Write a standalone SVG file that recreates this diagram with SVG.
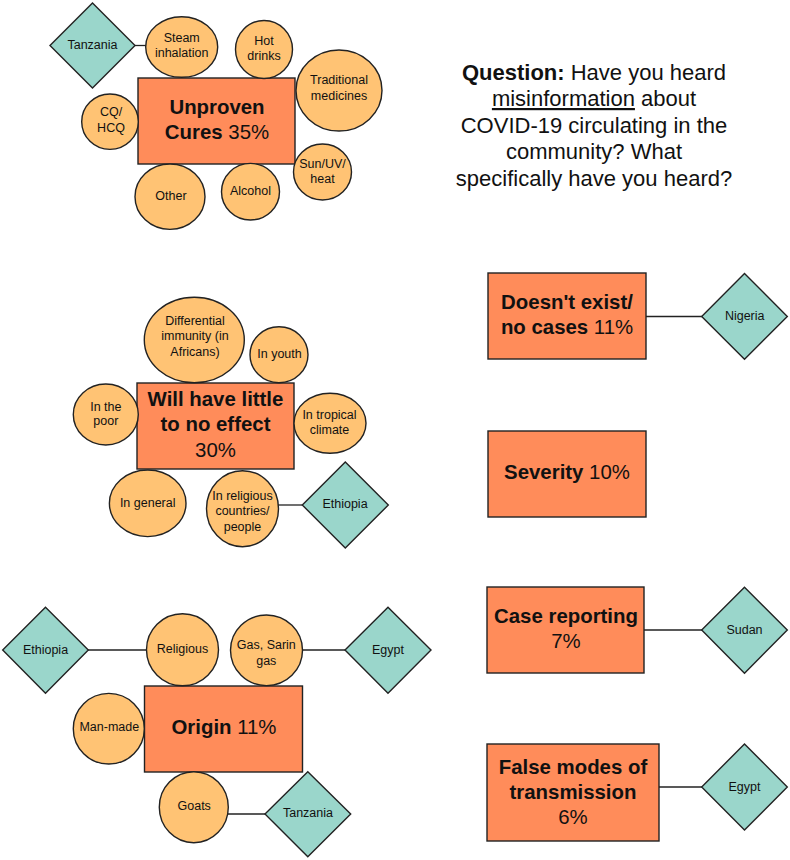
<svg xmlns="http://www.w3.org/2000/svg" width="790" height="860" viewBox="0 0 790 860">
<style>
.bg{fill:#ffffff}
.rect{fill:#FF8C5A;stroke:#222;stroke-width:1.4}
.circ{fill:#FFC374;stroke:#222;stroke-width:1.4}
.dia{fill:#9AD6CB;stroke:#222;stroke-width:1.4}
.conn{stroke:#222;stroke-width:1.3;fill:none}
text{font-family:"Liberation Sans",Arial,sans-serif;fill:#111;text-anchor:middle}
.s{font-size:12.5px}
.big{font-size:20.4px}
.q{font-size:22px}
.b{font-weight:bold}
</style>
<rect class="bg" x="0" y="0" width="790" height="860"/>

<g id="connectors">
  <line class="conn" x1="135" y1="45.5" x2="146" y2="45.5"/>
  <line class="conn" x1="278" y1="505" x2="302" y2="505"/>
  <line class="conn" x1="646" y1="316.5" x2="702" y2="316.5"/>
  <line class="conn" x1="88" y1="650" x2="147" y2="650"/>
  <line class="conn" x1="302" y1="650" x2="345" y2="650"/>
  <line class="conn" x1="228" y1="814" x2="265" y2="814"/>
  <line class="conn" x1="644" y1="630" x2="702" y2="630"/>
  <line class="conn" x1="659" y1="787" x2="702" y2="787"/>
</g>

<g id="question">
  <text class="q" x="594" y="79.5"><tspan class="b">Question:</tspan> Have you heard</text>
  <text class="q" x="594" y="106"><tspan text-decoration="underline">misinformation</tspan> about</text>
  <text class="q" x="594" y="132.5">COVID-19 circulating in the</text>
  <text class="q" x="594" y="159">community? What</text>
  <text class="q" x="594" y="185.5">specifically have you heard?</text>
</g>

<!-- Unproven cures cluster -->
<g id="unproven">
  <rect class="rect" x="138" y="78" width="157" height="86"/>
  <text class="big b" x="217" y="114">Unproven</text>
  <text class="big" x="217" y="138.5"><tspan class="b">Cures</tspan> 35%</text>
</g>
<g id="tanzania1">
  <polygon class="dia" points="92.5,3 135,45.5 92.5,88 50,45.5"/>
  <text class="s" x="92.5" y="49">Tanzania</text>
</g>
<g id="steam">
  <ellipse class="circ" cx="181.7" cy="47" rx="36" ry="30.3"/>
  <text class="s" x="181.7" y="42">Steam</text>
  <text class="s" x="181.7" y="57">inhalation</text>
</g>
<g id="hotdrinks">
  <ellipse class="circ" cx="264" cy="49.5" rx="28.5" ry="29"/>
  <text class="s" x="264" y="45">Hot</text>
  <text class="s" x="264" y="60">drinks</text>
</g>
<g id="traditional">
  <ellipse class="circ" cx="339" cy="90.5" rx="43" ry="40.5"/>
  <text class="s" x="339" y="84">Traditional</text>
  <text class="s" x="339" y="99.5">medicines</text>
</g>
<g id="cqhcq">
  <ellipse class="circ" cx="110" cy="121.7" rx="28.3" ry="27.7"/>
  <text class="s" x="111" y="116">CQ/</text>
  <text class="s" x="111" y="131.5">HCQ</text>
</g>
<g id="sunuv">
  <ellipse class="circ" cx="322.5" cy="172" rx="29" ry="28"/>
  <text class="s" x="322.5" y="168">Sun/UV/</text>
  <text class="s" x="322.5" y="183">heat</text>
</g>
<g id="other">
  <ellipse class="circ" cx="170" cy="196.7" rx="35" ry="32.7"/>
  <text class="s" x="171" y="199.5">Other</text>
</g>
<g id="alcohol">
  <ellipse class="circ" cx="250.5" cy="191.7" rx="29" ry="28.3"/>
  <text class="s" x="250.5" y="194.5">Alcohol</text>
</g>

<!-- Little effect cluster -->
<g id="littleeffect">
  <rect class="rect" x="137" y="383" width="157" height="86"/>
  <text class="big b" x="215.5" y="406">Will have little</text>
  <text class="big b" x="215.5" y="431">to no effect</text>
  <text class="big" x="215.5" y="457">30%</text>
</g>
<g id="differential">
  <ellipse class="circ" cx="194.3" cy="340" rx="50" ry="42.7"/>
  <text class="s" x="195" y="325">Differential</text>
  <text class="s" x="195" y="340">immunity (in</text>
  <text class="s" x="195" y="355.5">Africans)</text>
</g>
<g id="youth">
  <ellipse class="circ" cx="279" cy="354.7" rx="29" ry="28"/>
  <text class="s" x="279.5" y="358">In youth</text>
</g>
<g id="poor">
  <ellipse class="circ" cx="105.8" cy="414.5" rx="32.5" ry="30.5"/>
  <text class="s" x="105.8" y="410.5">In the</text>
  <text class="s" x="105.8" y="425">poor</text>
</g>
<g id="tropical">
  <ellipse class="circ" cx="330" cy="423.3" rx="36" ry="30"/>
  <text class="s" x="329.5" y="418.5">In tropical</text>
  <text class="s" x="329.5" y="433.5">climate</text>
</g>
<g id="general">
  <ellipse class="circ" cx="147.7" cy="503.3" rx="38.3" ry="33.3"/>
  <text class="s" x="147.7" y="507">In general</text>
</g>
<g id="religiouscountries">
  <ellipse class="circ" cx="242.5" cy="508.7" rx="36" ry="38"/>
  <text class="s" x="242.5" y="499.5">In religious</text>
  <text class="s" x="242.5" y="515">countries/</text>
  <text class="s" x="242.5" y="530.5">people</text>
</g>
<g id="ethiopia1">
  <polygon class="dia" points="345.3,462 388.3,505 345.3,548 302.3,505"/>
  <text class="s" x="345" y="508">Ethiopia</text>
</g>

<!-- Right column -->
<g id="doesntexist">
  <rect class="rect" x="488" y="273" width="158" height="86"/>
  <text class="big b" x="567" y="309">Doesn't exist/</text>
  <text class="big" x="567" y="334"><tspan class="b">no cases</tspan> 11%</text>
</g>
<g id="nigeria">
  <polygon class="dia" points="744.5,273.5 787.3,316.5 744.5,359.3 701.7,316.5"/>
  <text class="s" x="744.7" y="319.5">Nigeria</text>
</g>
<g id="severity">
  <rect class="rect" x="488" y="431" width="158" height="86"/>
  <text class="big" x="567" y="479"><tspan class="b">Severity</tspan> 10%</text>
</g>
<g id="casereporting">
  <rect class="rect" x="487" y="587" width="157" height="86"/>
  <text class="big b" x="566" y="623">Case reporting</text>
  <text class="big" x="566" y="648">7%</text>
</g>
<g id="sudan">
  <polygon class="dia" points="744.5,587.3 787.3,630 744.5,673.3 701.7,630"/>
  <text class="s" x="744.5" y="633.5">Sudan</text>
</g>
<g id="falsemodes">
  <rect class="rect" x="487" y="744" width="172" height="97"/>
  <text class="big b" x="573" y="774">False modes of</text>
  <text class="big b" x="573" y="799">transmission</text>
  <text class="big" x="573" y="824">6%</text>
</g>
<g id="egypt2">
  <polygon class="dia" points="744.5,744 787.3,787 744.5,830 701.7,787"/>
  <text class="s" x="744.5" y="790.5">Egypt</text>
</g>

<!-- Origin cluster -->
<g id="origin">
  <rect class="rect" x="144.5" y="686" width="158" height="86"/>
  <text class="big" x="224" y="734"><tspan class="b">Origin</tspan> 11%</text>
</g>
<g id="ethiopia2">
  <polygon class="dia" points="45.5,607.3 88.3,650 45.5,693.3 2.7,650"/>
  <text class="s" x="45.5" y="653.5">Ethiopia</text>
</g>
<g id="religious">
  <ellipse class="circ" cx="182.5" cy="649.8" rx="36" ry="36"/>
  <text class="s" x="182.5" y="653">Religious</text>
</g>
<g id="gassarin">
  <ellipse class="circ" cx="266.5" cy="650.3" rx="36" ry="35.3"/>
  <text class="s" x="266.3" y="649">Gas, Sarin</text>
  <text class="s" x="266.3" y="665">gas</text>
</g>
<g id="egypt1">
  <polygon class="dia" points="388,607.3 431,650 388,693.3 345,650"/>
  <text class="s" x="388" y="653.5">Egypt</text>
</g>
<g id="manmade">
  <ellipse class="circ" cx="108.8" cy="728.7" rx="35.5" ry="35.3"/>
  <text class="s" x="109.3" y="731">Man-made</text>
</g>
<g id="goats">
  <ellipse class="circ" cx="193.8" cy="807.2" rx="34.5" ry="35.5"/>
  <text class="s" x="194.2" y="809.5">Goats</text>
</g>
<g id="tanzania2">
  <polygon class="dia" points="307.8,771.7 350.7,814 307.8,856.7 265,814"/>
  <text class="s" x="308" y="817">Tanzania</text>
</g>
</svg>
